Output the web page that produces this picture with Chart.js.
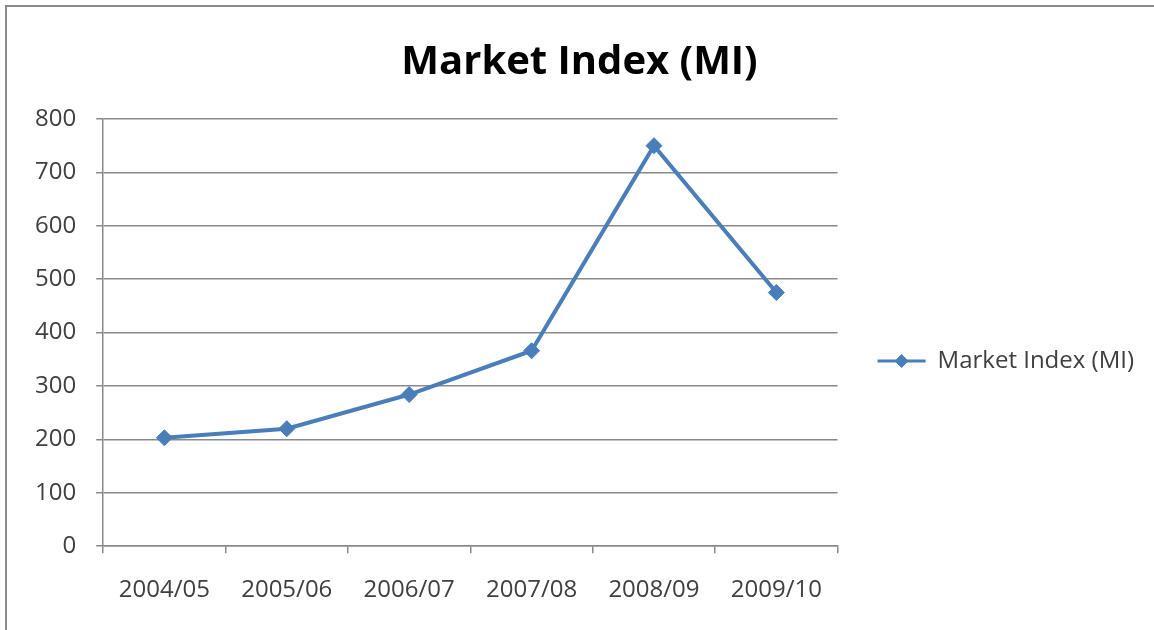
<!DOCTYPE html>
<html>
<head>
<meta charset="utf-8">
<title>Market Index (MI)</title>
<script src="https://cdn.jsdelivr.net/npm/chart.js@4/dist/chart.umd.min.js"></script>
<style>
  html, body { margin: 0; padding: 0; background: #fff; }
  #wrap { width: 1154px; height: 630px; position: relative; }
</style>
</head>
<body>
<div id="wrap"><canvas id="miChart" width="1154" height="630"></canvas></div>
<script>
const years = ['2004/05', '2005/06', '2006/07', '2007/08', '2008/09', '2009/10'];
const indexValues = [203, 220, 284, 366, 750, 475];
const yTicks = [0, 100, 200, 300, 400, 500, 600, 700, 800];

const blue = '#4a7ebb';
const textGrey = '#404040';
const lineGrey = '#8a8a8a';
const font = "'Open Sans', 'DejaVu Sans', sans-serif";

// grey frame along the top and left edge of the chart
const framePlugin = {
    id: 'frame',
    beforeDraw(chart) {
        const c = chart.ctx;
        c.save();
        c.fillStyle = '#fff';
        c.fillRect(0, 0, chart.width, chart.height);
        c.fillStyle = '#8a8a8a';
        c.fillRect(5, 5, chart.width - 5, 2);
        c.fillRect(5, 5, 2, chart.height - 5);
        c.restore();
    }
};

// legend only draws a box, so put the diamond marker on top of it
const legendMarker = {
    id: 'legendMarker',
    afterDraw(chart) {
        const legend = chart.legend;
        if (!legend || !legend.legendHitBoxes.length) return;
        const box = legend.legendHitBoxes[0];
        const bw = legend.options.labels.boxWidth;
        const c = chart.ctx;
        c.save();
        c.fillStyle = blue;
        c.strokeStyle = blue;
        c.lineWidth = 1;
        Chart.helpers.drawPoint(c, { pointStyle: 'rectRot', radius: 6.5, borderWidth: 1 },
            box.left + bw / 2, box.top + box.height / 2);
        c.restore();
    }
};

const chart = new Chart(document.getElementById('miChart').getContext('2d'), {
    type: 'line',
    data: {
        labels: years,
        datasets: [{
            label: 'Market Index (MI)',
            data: indexValues,
            borderColor: blue,
            backgroundColor: blue,
            borderWidth: 4,
            pointStyle: 'rectRot',
            pointRadius: 8,
            pointBorderWidth: 1,
            pointBackgroundColor: blue,
            pointBorderColor: blue,
            tension: 0,
            fill: false
        }]
    },
    options: {
        responsive: false,
        animation: false,
        layout: {
            padding: { left: 15, right: 10, top: 4, bottom: 2 }
        },
        plugins: {
            title: {
                display: true,
                text: 'Market Index (MI)',
                color: '#000',
                font: { family: font, size: 40, weight: 'bold' },
                padding: { top: 35, bottom: 32 }
            },
            legend: {
                position: 'right',
                maxWidth: 420,
                // empty title only pushes the entry down a little
                title: {
                    display: true,
                    text: '',
                    font: { family: font, size: 10 },
                    padding: { top: 78, bottom: 0 }
                },
                labels: {
                    color: textGrey,
                    font: { family: font, size: 24 },
                    boxWidth: 48,
                    boxHeight: 3,
                    padding: 40,
                    generateLabels(c) {
                        return Chart.defaults.plugins.legend.labels.generateLabels(c).map(item => {
                            item.lineWidth = 0;
                            return item;
                        });
                    }
                }
            },
            tooltip: { enabled: false }
        },
        scales: {
            x: {
                offset: true,
                grid: {
                    offset: true,
                    drawOnChartArea: false,
                    drawTicks: true,
                    tickLength: 7,
                    color: lineGrey,
                    lineWidth: 1.5
                },
                border: { display: true, color: lineGrey, width: 1.5 },
                ticks: {
                    color: textGrey,
                    font: { family: font, size: 24 },
                    padding: 23,
                    maxRotation: 0,
                    autoSkip: false
                }
            },
            y: {
                min: yTicks[0],
                max: yTicks[yTicks.length - 1],
                afterBuildTicks(scale) {
                    scale.ticks = yTicks.map(v => ({ value: v }));
                },
                grid: {
                    color: lineGrey,
                    lineWidth: 1.5,
                    drawTicks: true,
                    tickLength: 7
                },
                border: { display: true, color: lineGrey, width: 1.5 },
                ticks: {
                    color: textGrey,
                    font: { family: font, size: 24 },
                    padding: 20
                }
            }
        }
    },
    plugins: [framePlugin, legendMarker]
});
</script>
</body>
</html>
